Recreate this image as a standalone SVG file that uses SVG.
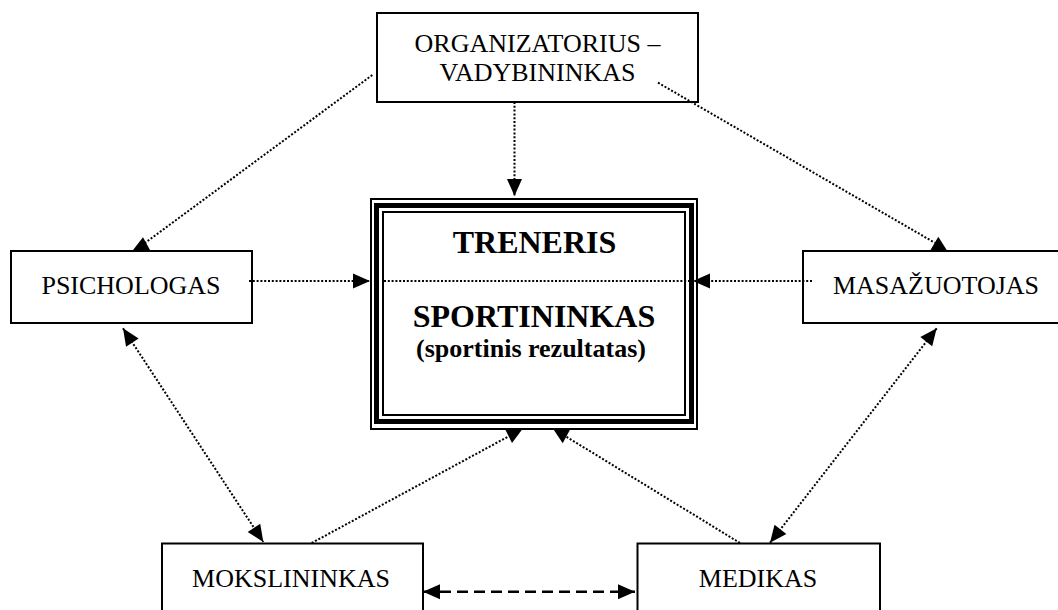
<svg xmlns="http://www.w3.org/2000/svg" width="1058" height="610" viewBox="0 0 1058 610">
  <style>
    .box { fill: #ffffff; stroke: #000000; stroke-width: 2; }
    .frame { fill: none; stroke: #000000; }
    .lbl { font-family: "Liberation Serif", "Times New Roman", serif; font-size: 26px; fill: #000000; text-anchor: middle; }
    .big { font-family: "Liberation Serif", "Times New Roman", serif; font-weight: bold; fill: #000000; text-anchor: middle; }
    .dot { fill: none; stroke: #000000; stroke-width: 2; stroke-dasharray: 2 1.8; }
    .dash { fill: none; stroke: #000000; stroke-width: 2.5; stroke-dasharray: 11 6; }
    .head { fill: #000000; stroke: none; }
  </style>
  <defs>
    <marker id="ah" markerUnits="userSpaceOnUse" markerWidth="17" markerHeight="15" refX="17" refY="7.5" orient="auto-start-reverse" overflow="visible">
      <path d="M0,0 L17,7.5 L0,15 Z" fill="#000000"/>
    </marker>
  </defs>

  <rect width="1058" height="610" fill="#ffffff"/>

  <!-- nodes -->
  <g id="node-organizatorius">
    <rect class="box" x="377" y="13" width="321" height="89"/>
    <text class="lbl" x="537.5" y="52" font-size="25.5">ORGANIZATORIUS –</text>
    <text class="lbl" x="537.5" y="80.5" font-size="25.5">VADYBININKAS</text>
  </g>

  <g id="node-psichologas">
    <rect class="box" x="11" y="251" width="241" height="72"/>
    <text class="lbl" x="131" y="294">PSICHOLOGAS</text>
  </g>

  <g id="node-masazuotojas">
    <rect class="box" x="803" y="251" width="265" height="72"/>
    <text class="lbl" x="936" y="294">MASAŽUOTOJAS</text>
  </g>

  <g id="node-treneris">
    <rect class="box" x="371" y="199" width="326" height="230"/>
    <rect class="frame" x="376.5" y="205.5" width="315" height="216" stroke-width="5"/>
    <rect class="frame" x="383" y="212" width="302" height="203" stroke-width="2"/>
    <text class="big" x="534.5" y="253" font-size="32">TRENERIS</text>
    <text class="big" x="534" y="327" font-size="32">SPORTININKAS</text>
    <text class="big" x="531" y="357" font-size="26">(sportinis rezultatas)</text>
  </g>

  <g id="node-mokslininkas">
    <rect class="box" x="162" y="543.5" width="261" height="80"/>
    <text class="lbl" x="291" y="587">MOKSLININKAS</text>
  </g>

  <g id="node-medikas">
    <rect class="box" x="637.5" y="543.5" width="242.5" height="80"/>
    <text class="lbl" x="758" y="587">MEDIKAS</text>
  </g>

  <!-- connectors -->
  <g id="connectors">
    <!-- from the organiser -->
    <line class="dot" x1="514.5" y1="102" x2="514.5" y2="196" marker-end="url(#ah)"/>
    <line class="dot" x1="372.3" y1="75" x2="145" y2="243"/>
    <polygon class="head" points="133,250 143,237.3 150,250"/>
    <line class="dot" x1="658" y1="82.7" x2="934.7" y2="242.7"/>
    <polygon class="head" points="930.5,250 938.3,236.7 946.7,250"/>

    <!-- side nodes into the centre -->
    <line class="dot" x1="249" y1="281" x2="370" y2="281" marker-end="url(#ah)"/>
    <line class="dot" x1="812" y1="281" x2="693" y2="281" marker-end="url(#ah)"/>
    <line class="dot" x1="384" y1="281" x2="690" y2="281"/>

    <!-- two-way links down the sides -->
    <line class="dot" x1="123" y1="328.3" x2="263.3" y2="542" marker-start="url(#ah)" marker-end="url(#ah)"/>
    <line class="dot" x1="936.7" y1="328.3" x2="770" y2="542.7" marker-start="url(#ah)" marker-end="url(#ah)"/>

    <!-- bottom nodes into the centre -->
    <line class="dot" x1="311.7" y1="543" x2="508.5" y2="436.4"/>
    <polygon class="head" points="505,429 522.5,429 512,443"/>
    <line class="dot" x1="740" y1="543" x2="566.5" y2="436.8"/>
    <polygon class="head" points="553.2,429 570.4,429 562.7,443.3"/>

    <!-- between the bottom nodes -->
    <line class="dash" x1="423" y1="591.7" x2="635" y2="591.7" marker-start="url(#ah)" marker-end="url(#ah)"/>
  </g>
</svg>
